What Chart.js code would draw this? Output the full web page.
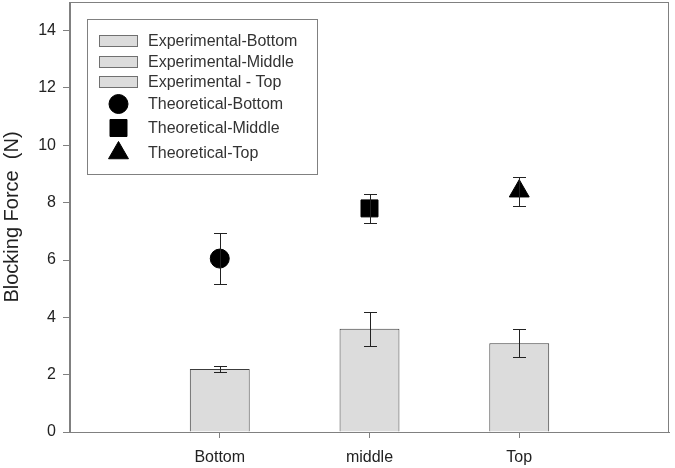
<!DOCTYPE html>
<html>
<head>
<meta charset="utf-8">
<script src="https://cdn.jsdelivr.net/npm/chart.js@4"></script>
<style>
  html, body { margin: 0; padding: 0; background: #fff; }
  #wrap { width: 675px; height: 468px; position: relative; }
</style>
</head>
<body>
<div id="wrap"><canvas id="chart"></canvas></div>
<script>
/* Blocking force: experimental bars vs theoretical points, with error bars */

const categories = ['', 'Bottom', 'middle', 'Top', ''];
const expLabels  = ['Experimental-Bottom', 'Experimental-Middle', 'Experimental - Top'];
const expMeans   = [2.2, 3.6, 3.1];
const expErr     = [0.1, 0.6, 0.5];
const theoLabels = ['Theoretical-Bottom', 'Theoretical-Middle', 'Theoretical-Top'];
const theoMeans  = [6.05, 7.8, 8.4];
const theoErr    = [0.9, 0.5, 0.5];
const yTicks     = [0, 2, 4, 6, 8, 10, 12, 14];

const AXIS = '#808080';
const INK  = '#222';
const FONT = "'Liberation Sans', Arial, sans-serif";

/* put value i at category slot i+1, null elsewhere */
function slotData(values, i) {
  return categories.map((c, j) => (j === i + 1 ? values[i] : null));
}

/* keep the plot area exactly where we want it */
function noPad(scale) {
  scale.paddingTop = 0; scale.paddingBottom = 0;
  scale.paddingLeft = 0; scale.paddingRight = 0;
}

const markerStyles = ['circle', 'rect', 'triangle'];
const markerSizes  = [9.5, 12, 11.5];

const datasets = [];
expLabels.forEach((lab, i) => {
  datasets.push({
    type: 'bar',
    label: lab,
    data: slotData(expMeans, i),
    errors: slotData(expErr, i),
    backgroundColor: '#dcdcdc',
    borderColor: '#3c3c3c',
    borderWidth: 1,
    grouped: false,
    barPercentage: 0.4,
    categoryPercentage: 1,
    order: 2
  });
});
theoLabels.forEach((lab, i) => {
  datasets.push({
    type: 'line',
    label: lab,
    data: slotData(theoMeans, i),
    errors: slotData(theoErr, i),
    showLine: false,
    pointStyle: markerStyles[i],
    pointRadius: markerSizes[i],
    pointBackgroundColor: '#000',
    pointBorderColor: '#000',
    pointBorderWidth: 1,
    order: 1
  });
});

/* frame around the plot area (top + right edges) */
const framePlugin = {
  id: 'frame',
  beforeDatasetsDraw(chart) {
    const { ctx, chartArea: a } = chart;
    ctx.save();
    ctx.strokeStyle = AXIS;
    ctx.lineWidth = 1;
    ctx.strokeRect(Math.round(a.left) - 0.5, Math.round(a.top) + 0.5,
                   Math.round(a.right - a.left), Math.round(a.bottom - a.top));
    ctx.restore();
  }
};

/* vertical error bars with caps, from each dataset's errors array */
const errorBarPlugin = {
  id: 'errorBars',
  afterDatasetsDraw(chart) {
    const { ctx } = chart;
    const y = chart.scales.y;
    ctx.save();
    ctx.strokeStyle = INK;
    ctx.lineWidth = 1;
    chart.data.datasets.forEach((ds, i) => {
      const meta = chart.getDatasetMeta(i);
      ds.data.forEach((v, j) => {
        if (v == null || ds.errors[j] == null) return;
        const x = Math.round(meta.data[j].x) + 0.5;
        const hi = Math.round(y.getPixelForValue(v + ds.errors[j])) + 0.5;
        const lo = Math.round(y.getPixelForValue(v - ds.errors[j])) + 0.5;
        ctx.beginPath();
        ctx.moveTo(x, hi); ctx.lineTo(x, lo);
        ctx.moveTo(x - 6.5, hi); ctx.lineTo(x + 6.5, hi);
        ctx.moveTo(x - 6.5, lo); ctx.lineTo(x + 6.5, lo);
        ctx.stroke();
      });
    });
    ctx.restore();
  }
};

/* boxed legend inside the plot, upper left */
const legendPlugin = {
  id: 'boxLegend',
  afterDraw(chart) {
    const { ctx } = chart;
    const rows = [41, 62, 82, 104, 128, 153];
    ctx.save();
    ctx.strokeStyle = AXIS;
    ctx.lineWidth = 1;
    ctx.fillStyle = '#fff';
    ctx.fillRect(87.5, 19.5, 230, 155);
    ctx.strokeRect(87.5, 19.5, 230, 155);
    ctx.font = '16px ' + FONT;
    ctx.textBaseline = 'middle';
    chart.data.datasets.forEach((ds, i) => {
      const cy = rows[i];
      if (ds.type === 'bar') {
        ctx.fillStyle = ds.backgroundColor;
        ctx.fillRect(99.5, cy - 5.5, 38, 11);
        ctx.strokeStyle = '#707070';
        ctx.strokeRect(99.5, cy - 5.5, 38, 11);
      } else {
        ctx.fillStyle = '#000';
        ctx.strokeStyle = '#000';
        Chart.helpers.drawPoint(ctx, {
          pointStyle: ds.pointStyle, radius: ds.pointRadius, rotation: 0, borderWidth: 1
        }, 118.5, cy);
      }
      ctx.fillStyle = '#333';
      ctx.fillText(ds.label, 148, cy + 1);
    });
    ctx.restore();
  }
};

new Chart(document.getElementById('chart'), {
  type: 'bar',
  data: { labels: categories, datasets },
  options: {
    responsive: true,
    maintainAspectRatio: false,
    animation: false,
    layout: { autoPadding: false, padding: { top: 2, right: 6, left: 0, bottom: 0 } },
    plugins: { legend: { display: false }, tooltip: { enabled: false } },
    scales: {
      x: {
        offset: false,
        afterFit(scale) { scale.height = 36; noPad(scale); },
        grid: {
          display: true, offset: false, drawOnChartArea: false, drawTicks: true, tickLength: 6,
          tickColor: c => (categories[c.index] ? AXIS : 'rgba(0,0,0,0)')
        },
        border: { display: true, color: AXIS },
        ticks: { color: INK, font: { family: FONT, size: 16 }, padding: 10, maxRotation: 0, autoSkip: false }
      },
      y: {
        min: 0, max: 15,
        afterFit(scale) { scale.width = 70; noPad(scale); },
        afterBuildTicks(scale) { scale.ticks = yTicks.map(v => ({ value: v })); },
        grid: { display: true, drawOnChartArea: false, drawTicks: true, tickLength: 7, color: AXIS },
        border: { display: true, color: AXIS },
        ticks: { color: INK, font: { family: FONT, size: 16 }, padding: 7 },
        title: {
          display: true, text: 'Blocking Force  (N)', color: INK,
          font: { family: FONT, size: 20 }, padding: 0
        }
      }
    }
  },
  plugins: [framePlugin, errorBarPlugin, legendPlugin]
});
</script>
</body>
</html>
